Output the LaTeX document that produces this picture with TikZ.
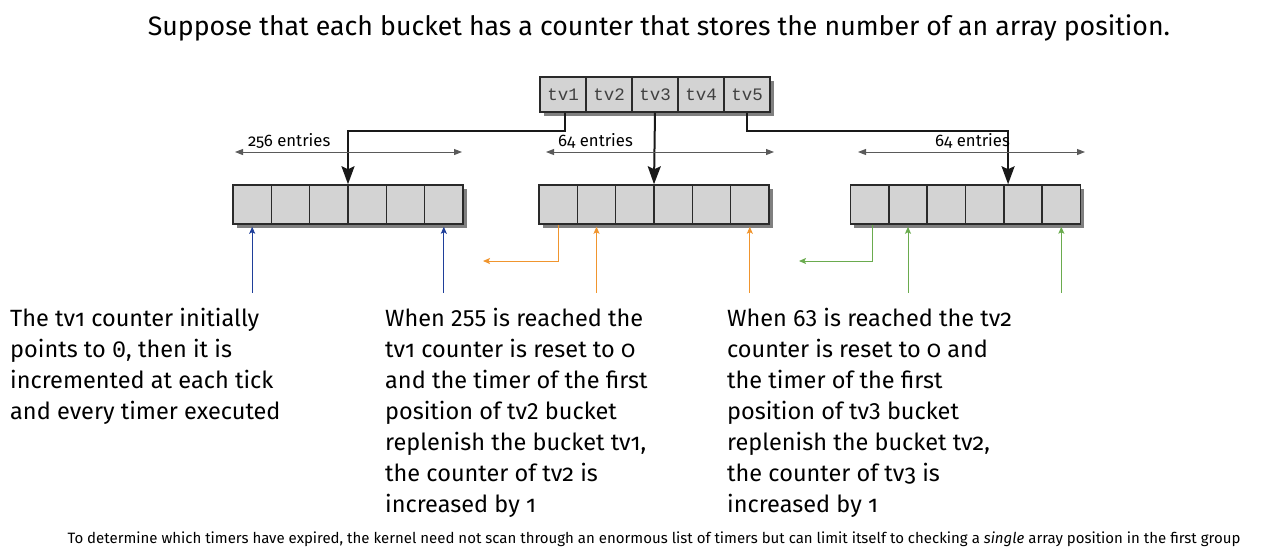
\documentclass[tikz,border=0pt]{standalone}
\usepackage{fontspec}
\setmainfont{Fira Sans}[Numbers=OldStyle]
\newfontfamily\tvmono{Liberation Mono}
\usetikzlibrary{arrows.meta,positioning,shadows}
\definecolor{cellg}{HTML}{D3D3D3}
\definecolor{edgec}{HTML}{2A2A2A}
\definecolor{entc}{HTML}{5A5A5A}
\definecolor{bluec}{HTML}{1F3F9A}
\definecolor{orangec}{HTML}{F0952E}
\definecolor{greenc}{HTML}{6AAB4E}
\newcommand{\lnum}[1]{{\addfontfeatures{Numbers=Lining}#1}}
\tikzset{
  arrbg/.style={draw=edgec,line width=1.5pt,fill=cellg,inner sep=0pt,drop shadow={shadow xshift=3.5pt,shadow yshift=-3.5pt,fill=black!50,opacity=1}},
  bucket/.style={draw=edgec,line width=1.5pt,fill=cellg,minimum width=38.33pt,minimum height=39pt,inner sep=0pt},
  tvcell/.style={draw=edgec,line width=1.5pt,fill=cellg,minimum width=46pt,minimum height=35pt,inner sep=0pt,font=\tvmono\fontsize{17.5}{20}\selectfont,text=black!75},
  tvar/.style={-{Stealth[length=18pt,width=13pt,inset=3pt]},line width=2pt,black!90},
  entar/.style={{Triangle[length=8pt,width=6pt]}-{Triangle[length=8pt,width=6pt]},line width=1pt,entc},
  entlab/.style={font=\fontsize{16.7}{19}\selectfont,inner sep=0pt,anchor=base west},
  colar/.style={-{Stealth[length=7pt,width=6pt,inset=1.5pt]},line width=1pt,#1},
  note/.style={font=\fontsize{23.5}{31}\selectfont,align=left,inner sep=0pt,anchor=north west}
}
\begin{document}
\begin{tikzpicture}[x=1pt,y=-1pt]
\useasboundingbox (0,0) rectangle (1270,555);
\node[font=\fontsize{26.7}{30}\selectfont] (title) at (659,28) {Suppose that each bucket has a counter that stores the number of an array position.};
\node[arrbg,minimum width=230pt,minimum height=35pt] (tvrow) at (655,94.5) {};
\foreach \i in {1,...,5} \node[tvcell] (tv\i) at ({517+46*\i},94.5) {tv\i};
\foreach \g/\cx in {1/348,2/654,3/965.5}{
  \node[arrbg,minimum width=230pt,minimum height=39pt] (arr\g) at (\cx,204.5) {};
  \foreach \i in {1,...,6} \node[bucket] (b\g\i) at ({\cx+38.33*(\i-3.5)},204.5) {};
}
\draw[tvar] ([xshift=2pt]tv1.south) -- ++(0,18) -| (arr1.north);
\draw[tvar] (tv3.south) -- (arr2.north);
\draw[tvar] (tv5.south) -- ++(0,18) -| ([xshift=5pt]b35.north west);
\coordinate (e1l) at (235,152); \coordinate (e1r) at (462,152);
\coordinate (e2l) at (546,152); \coordinate (e2r) at (774,152);
\coordinate (e3l) at (858,152); \coordinate (e3r) at (1085,152);
\draw[entar] (e1l) -- (e1r);
\draw[entar] (e2l) -- (e2r);
\draw[entar] (e3l) -- (e3r);
\node[entlab] (lab1) at (248,146) {256 entries};
\node[entlab] (lab2) at (558,146) {64 entries};
\node[entlab] (lab3) at (935,146) {64 entries};
\foreach \c in {11,16} {
  \coordinate (s\c) at ([yshift=-68pt]b\c.south);
  \draw[colar=bluec,shorten >=2pt] (s\c) -- (b\c.south);
}
\foreach \c in {22,26} {
  \coordinate (s\c) at ([yshift=-68pt]b\c.south);
  \draw[colar=orangec,shorten >=2pt] (s\c) -- (b\c.south);
}
\foreach \c in {32,36} {
  \coordinate (s\c) at ([yshift=-68pt]b\c.south);
  \draw[colar=greenc,shorten >=2pt] (s\c) -- (b\c.south);
}
\coordinate (out2) at (483,261);
\coordinate (out3) at (799,261);
\draw[colar=orangec] (b21.south) |- (out2);
\draw[colar=greenc] ([xshift=3pt]b31.south) |- (out3);
\node[note] (txt1) at (10,307.5) {The tv1 counter initially\\points to {\tvmono 0}, then it is\\incremented at each tick\\and every timer executed};
\node[note] (txt2) at (385,307.5) {When \lnum{255} is reached the\\tv1 counter is reset to 0\\and the timer of the first\\position of tv\lnum{2} bucket\\replenish the bucket tv1,\\the counter of tv2 is\\increased by 1};
\node[note] (txt3) at (727,307.5) {When \lnum{63} is reached the tv2\\counter is reset to 0 and\\the timer of the first\\position of tv\lnum{3} bucket\\replenish the bucket tv2,\\the counter of tv3 is\\increased by 1};
\node[font=\fontsize{15}{17}\selectfont] (caption) at (654,539) {To determine which timers have expired, the kernel need not scan through an enormous list of timers but can limit itself to checking a \textit{single} array position in the first group};
\end{tikzpicture}
\end{document}
